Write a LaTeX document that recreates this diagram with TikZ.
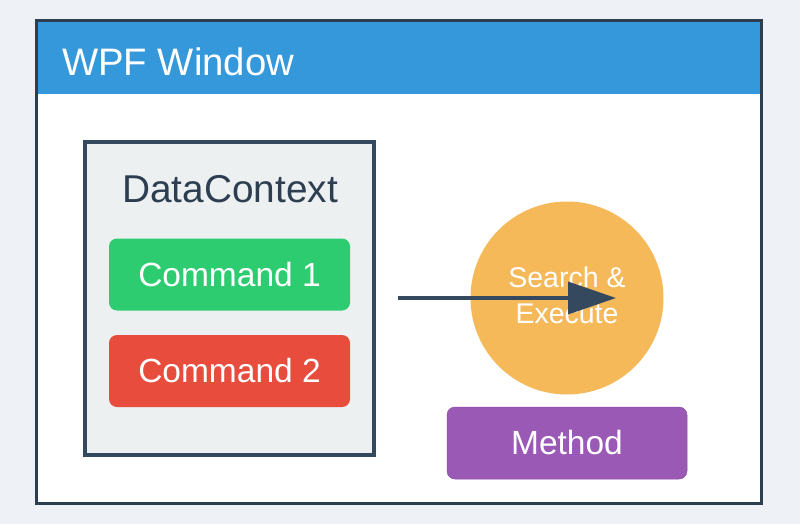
\documentclass[tikz,border=0pt]{standalone}
\usepackage{fontspec}
\setmainfont{Liberation Sans}
\usetikzlibrary{arrows.meta}
\definecolor{bgc}{RGB}{238,242,247}
\definecolor{dark}{RGB}{44,62,80}
\definecolor{darkb}{RGB}{52,73,94}
\definecolor{blueb}{RGB}{52,152,219}
\definecolor{panel}{RGB}{236,240,241}
\definecolor{greenc}{RGB}{46,204,113}
\definecolor{redc}{RGB}{231,76,60}
\definecolor{purplec}{RGB}{155,89,182}
\definecolor{orangec}{RGB}{245,185,90}
\tikzset{
  cmdbox/.style={rounded corners=8pt, minimum width=241pt, minimum height=72pt, inner sep=0pt, text=white, font=\fontsize{33.5}{36}\selectfont},
}
\begin{document}
\begin{tikzpicture}[x=1pt,y=-1pt]
\useasboundingbox (0,0) rectangle (800,524);
\fill[bgc] (0,0) rectangle (800,524);
% window
\node[draw=dark, line width=3pt, fill=white, minimum width=725pt, minimum height=482pt, inner sep=0pt] (win) at (398.5,262) {};
\fill[blueb] (37.5,22.5) rectangle (759.5,94);
\node[anchor=base west, text=white, font=\fontsize{38.3}{42}\selectfont, inner sep=0pt] (title) at (62,76) {WPF Window};
% DataContext panel
\node[draw=darkb, line width=3.5pt, fill=panel, minimum width=289pt, minimum height=313pt, inner sep=0pt] (dc) at (229.5,298.5) {};
\node[text=dark, font=\fontsize{38.8}{42}\selectfont, inner sep=0pt, anchor=base] (dctext) at (230,202.5) {DataContext};
\node[cmdbox, fill=greenc] (c1) at (229.5,274.5) {Command 1};
\node[cmdbox, fill=redc] (c2) at (229.5,371) {Command 2};
% circle
\node[circle, fill=orangec, minimum size=193pt, inner sep=0pt] (se) at (567,298) {};
\node[text=white, font=\fontsize{28.5}{36}\selectfont, align=center, inner sep=0pt] (setext) at (567,295) {Search \&\\Execute};
% method
\node[cmdbox, fill=purplec, draw=purplec!90!black, line width=0.5pt, minimum width=240pt] (m) at (567,443) {Method};
% arrow
\coordinate (a0) at (398,298);
\coordinate (a1) at (616,298);
\draw[darkb, line width=3.5pt, -{Triangle[length=48pt,width=32pt]}] (a0) -- (a1);
\end{tikzpicture}
\end{document}
